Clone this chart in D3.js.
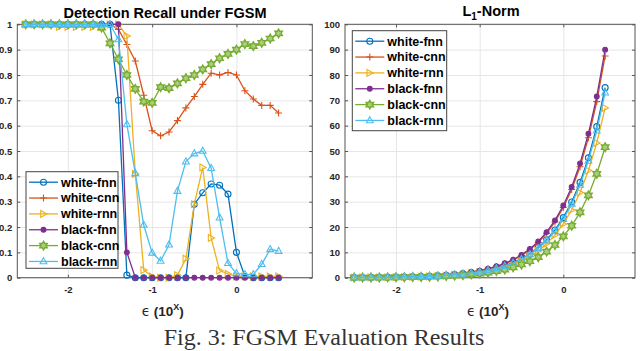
<!DOCTYPE html>
<html>
<head>
<meta charset="utf-8">
<script src="https://cdn.jsdelivr.net/npm/d3@7"></script>
<style>
  body { margin: 0; background: #fff; }
  svg { display: block; font-family: "Liberation Sans", Arial, sans-serif; }
  .tick text { font-size: 9.5px; font-weight: bold; fill: #262626; }
  .grid line { stroke: #e6e6e6; }
  .grid path { display: none; }
  .ticks path { display: none; }
  .ticks line { stroke: #555; }
  .title { font-size: 14.5px; font-weight: bold; fill: #000; }
  .xlabel { font-size: 13.5px; font-weight: bold; fill: #262626; }
  .legend text { font-size: 12.5px; font-weight: bold; fill: #000; }
</style>
</head>
<body>
<svg width="640" height="351"></svg>
<script>
// **** data ****

var epsExp = [-2.5,-2.4,-2.3,-2.2,-2.1,-2.0,-1.9,-1.8,-1.7,-1.6,-1.5,-1.4,-1.3,-1.2,-1.1,-1.0,
              -0.9,-0.8,-0.7,-0.6,-0.5,-0.4,-0.3,-0.2,-0.1,0,0.1,0.2,0.3,0.4,0.5];

var seriesNames = ["white-fnn", "white-cnn", "white-rnn", "black-fnn", "black-cnn", "black-rnn"];

// detection recall (left panel)
var recallWhiteFnn = [1,1,1,1,1,1,1,1,1,1,1, 0.70,0.01,0,0,0,0,0,0,0,
                      0.29,0.335,0.37,0.365,0.33,0.10,0.005,0,0,0,0];
var recallWhiteCnn = [1,1,1,1,1,1,1,1,1,1,1, 0.98,0.92,0.855,0.72,0.58,0.56,0.575,0.62,0.67,
                      0.715,0.763,0.807,0.80,0.81,0.80,0.738,0.705,0.68,0.68,0.65];
var recallWhiteRnn = [1,1,1,1,0.99,0.99,0.99,0.99,0.99,0.99,1, 1,0.954,0.41,0.03,0.005,0,0,0.01,0.075,
                      0.29,0.435,0.157,0.028,0.015,0.005,0.005,0.005,0.005,0.005,0.005];
var recallBlackFnn = [1,1,1,1,1,1,1,1,1,1,1,1, 0.10,0,0,0,0,0,0,0,
                      0,0,0,0,0,0,0,0,0,0,0];
var recallBlackCnn = [1,1,1,1,1,1,1,1,1, 0.987,0.925,0.862,0.80,0.745,0.695,0.69,0.752,0.748,0.767,0.787,
                      0.80,0.822,0.843,0.866,0.883,0.90,0.922,0.914,0.927,0.944,0.964];
var recallBlackRnn = [1,1,1,1,1,1,1,1,1,1,1, 0.94,0.605,0.412,0.208,0.098,0.066,0.13,0.342,0.458,
                      0.49,0.50,0.432,0.237,0.057,0.017,0.013,0.013,0.053,0.112,0.105];

// L1 norm (right panel)
var l1WhiteFnn = [0.075,0.09,0.12,0.15,0.19,0.24,0.3,0.38,0.47,0.6,0.75,0.9,1.2,1.5,1.9,2.4,
                  3.0,3.8,4.7,6.0,7.5,9.4,11.9,15.0,18.8,23.7,29.9,37.6,47.3,59.6,75];
var l1WhiteCnn = [0.09,0.11,0.14,0.18,0.22,0.28,0.35,0.44,0.55,0.7,0.9,1.1,1.4,1.75,2.2,2.8,
                  3.5,4.4,5.5,6.9,8.75,11.0,13.9,17.5,22.0,27.7,34.8,43.8,55.2,69.5,87.5];
var l1WhiteRnn = [0.07,0.08,0.11,0.13,0.17,0.21,0.27,0.34,0.42,0.53,0.67,0.8,1.1,1.3,1.7,2.1,
                  2.7,3.4,4.2,5.3,6.7,8.4,10.6,13.4,16.8,21.2,26.7,33.6,42.3,53.2,67];
var l1BlackFnn = [0.1,0.1,0.1,0.2,0.2,0.3,0.4,0.5,0.6,0.7,0.9,1.1,1.4,1.8,2.3,2.8,
                  3.6,4.5,5.7,7.1,9.0,11.3,14.3,18.0,22.6,28.5,35.8,45.1,56.8,71.5,90];
var l1BlackCnn = [0.05,0.07,0.08,0.1,0.13,0.16,0.2,0.26,0.3,0.4,0.5,0.65,0.8,1.0,1.3,1.6,
                  2.0,2.6,3.2,4.1,5.2,6.5,8.1,10.3,12.9,16.3,20.5,25.8,32.5,41.0,51.5];
var l1BlackRnn = [0.07,0.09,0.12,0.15,0.18,0.23,0.29,0.37,0.46,0.58,0.73,0.9,1.2,1.5,1.8,2.3,
                  2.9,3.7,4.6,5.8,7.3,9.2,11.6,14.6,18.3,23.1,29.1,36.6,46.1,58,73];

var xTicks = [-2, -1, 0];
var recallTicks = [0,0.1,0.2,0.3,0.4,0.5,0.6,0.7,0.8,0.9,1];
var l1Ticks = [0,10,20,30,40,50,60,70,80,90,100];

// **** styles ****

var colors = ["#0072BD", "#D95319", "#EDB120", "#7E2F8E", "#77AC30", "#4DBEEE"];
var markers = ["o", "+", ">", ".", "h", "^"];

function hexagram(R) {
    var r = R / Math.sqrt(3), pts = [];
    for (var i = 0; i < 12; i++) {
        var a = -Math.PI / 2 + i * Math.PI / 6;
        var rr = (i % 2 === 0) ? R : r;
        pts.push([rr * Math.cos(a), rr * Math.sin(a)]);
    }
    return "M" + pts.map(function(p) { return p[0].toFixed(2) + "," + p[1].toFixed(2); }).join("L") + "Z";
}

function markerPath(m) {
    if (m === "o") return "M3,0A3,3 0 1,1 -3,0A3,3 0 1,1 3,0Z";
    if (m === "+") return "M-3.5,0H3.5M0,-3.5V3.5";
    if (m === ">") return "M-2.8,-3.4L3.4,0L-2.8,3.4Z";
    if (m === ".") return "M2.4,0A2.4,2.4 0 1,1 -2.4,0A2.4,2.4 0 1,1 2.4,0Z";
    if (m === "h") return hexagram(4.3);
    if (m === "^") return "M0,-3.8L3.4,2.3L-3.4,2.3Z";
}

function drawMarker(sel, i) {
    sel.attr("d", markerPath(markers[i]))
        .attr("fill", markers[i] === "." ? colors[i] : (markers[i] === "h" ? "#a9cf7a" : "none"))
        .attr("stroke", colors[i])
        .attr("stroke-width", markers[i] === "h" ? 1.4 : 1.1);
}

var svg = d3.select("svg");

function drawPanel(opt) {
    var x = d3.scaleLinear().domain(opt.xDomain).range([opt.left, opt.right]);
    var y = d3.scaleLinear().domain(opt.yDomain).range([opt.bottom, opt.top]);
    var w = opt.right - opt.left, h = opt.bottom - opt.top;
    var g = svg.append("g");

    // grid
    g.append("g").attr("class", "grid")
        .attr("transform", "translate(0," + opt.bottom + ")")
        .call(d3.axisBottom(x).tickValues(xTicks).tickSize(-h).tickFormat(""));
    g.append("g").attr("class", "grid")
        .attr("transform", "translate(" + opt.left + ",0)")
        .call(d3.axisLeft(y).tickValues(opt.yTicks).tickSize(-w).tickFormat(""));

    // ticks (inward, all four sides)
    g.append("g").attr("class", "ticks")
        .attr("transform", "translate(0," + opt.bottom + ")")
        .call(d3.axisBottom(x).tickValues(xTicks).tickSizeInner(-3).tickSizeOuter(0).tickPadding(9)
            .tickFormat(function(d) { return d; }));
    g.append("g").attr("class", "ticks")
        .attr("transform", "translate(0," + opt.top + ")")
        .call(d3.axisTop(x).tickValues(xTicks).tickSizeInner(-3).tickSizeOuter(0).tickFormat(""));
    g.append("g").attr("class", "ticks")
        .attr("transform", "translate(" + opt.left + ",0)")
        .call(d3.axisLeft(y).tickValues(opt.yTicks).tickSizeInner(-3).tickSizeOuter(0).tickPadding(5)
            .tickFormat(function(d) { return d; }));
    g.append("g").attr("class", "ticks")
        .attr("transform", "translate(" + opt.right + ",0)")
        .call(d3.axisRight(y).tickValues(opt.yTicks).tickSizeInner(-3).tickSizeOuter(0).tickFormat(""));

    g.append("rect")
        .attr("x", opt.left).attr("y", opt.top)
        .attr("width", w).attr("height", h)
        .attr("fill", "none").attr("stroke", "#555").attr("stroke-width", 1);

    // series
    var line = d3.line()
        .x(function(d) { return x(d[0]); })
        .y(function(d) { return y(d[1]); });

    opt.series.forEach(function(vals, i) {
        var pts = epsExp.map(function(e, j) { return [e, vals[j]]; });
        var s = g.append("g");
        s.append("path")
            .attr("d", line(pts))
            .attr("fill", "none")
            .attr("stroke", colors[i])
            .attr("stroke-width", 1.3);
        s.selectAll("path.mk")
            .data(pts)
            .enter()
            .append("path")
            .attr("class", "mk")
            .attr("transform", function(d) { return "translate(" + x(d[0]) + "," + y(d[1]) + ")"; })
            .call(drawMarker, i);
    });

    // legend
    var lg = g.append("g").attr("class", "legend");
    lg.append("rect")
        .attr("x", opt.legend[0]).attr("y", opt.legend[1])
        .attr("width", opt.legend[2]).attr("height", opt.legend[3])
        .attr("fill", "#fff").attr("stroke", "#444").attr("stroke-width", 1);
    seriesNames.forEach(function(name, i) {
        var ly = opt.legend[1] + 10.5 + i * 15.85;
        var lx = opt.legend[0] + 3;
        lg.append("line")
            .attr("x1", lx).attr("x2", lx + 29)
            .attr("y1", ly).attr("y2", ly)
            .attr("stroke", colors[i]).attr("stroke-width", 1.3);
        lg.append("path")
            .attr("transform", "translate(" + (lx + 14.5) + "," + ly + ")")
            .call(drawMarker, i);
        lg.append("text")
            .attr("x", lx + 32).attr("y", ly + 4.4)
            .text(name);
    });

    // x label
    var xl = g.append("text")
        .attr("class", "xlabel")
        .attr("text-anchor", "middle")
        .attr("x", (opt.left + opt.right) / 2 - 2)
        .attr("y", 316);
    xl.append("tspan").attr("font-family", "DejaVu Sans").attr("font-weight", "normal").text("\u03F5");
    xl.append("tspan").text(" (10");
    xl.append("tspan").attr("dy", -6).attr("font-size", "9px").text("X");
    xl.append("tspan").attr("dy", 6).text(")");

    return g;
}

drawPanel({
    left: 17.3, right: 312.3, top: 24.3, bottom: 277.7,
    xDomain: [-2.6, 0.9], yDomain: [0, 1], yTicks: recallTicks,
    series: [recallWhiteFnn, recallWhiteCnn, recallWhiteRnn, recallBlackFnn, recallBlackCnn, recallBlackRnn],
    legend: [26, 171.7, 92, 96.6]
});

drawPanel({
    left: 345, right: 635, top: 24.3, bottom: 277.7,
    xDomain: [-2.61, 0.857], yDomain: [0, 100], yTicks: l1Ticks,
    series: [l1WhiteFnn, l1WhiteCnn, l1WhiteRnn, l1BlackFnn, l1BlackCnn, l1BlackRnn],
    legend: [352.3, 30.7, 94.4, 100]
});

// titles
svg.append("text")
    .attr("class", "title")
    .attr("text-anchor", "middle")
    .attr("x", 165).attr("y", 18)
    .text("Detection Recall under FGSM");

var t2 = svg.append("text")
    .attr("class", "title")
    .attr("text-anchor", "middle")
    .attr("x", 491).attr("y", 16);
t2.append("tspan").text("L");
t2.append("tspan").attr("dy", 4).attr("font-size", "10px").text("1");
t2.append("tspan").attr("dy", -4).text("-Norm");

// caption
svg.append("text")
    .attr("text-anchor", "middle")
    .attr("x", 324).attr("y", 345)
    .attr("font-family", "Liberation Serif, serif")
    .attr("font-size", "24px")
    .attr("fill", "#333")
    .text("Fig. 3: FGSM Evaluation Results");
</script>
</body>
</html>
